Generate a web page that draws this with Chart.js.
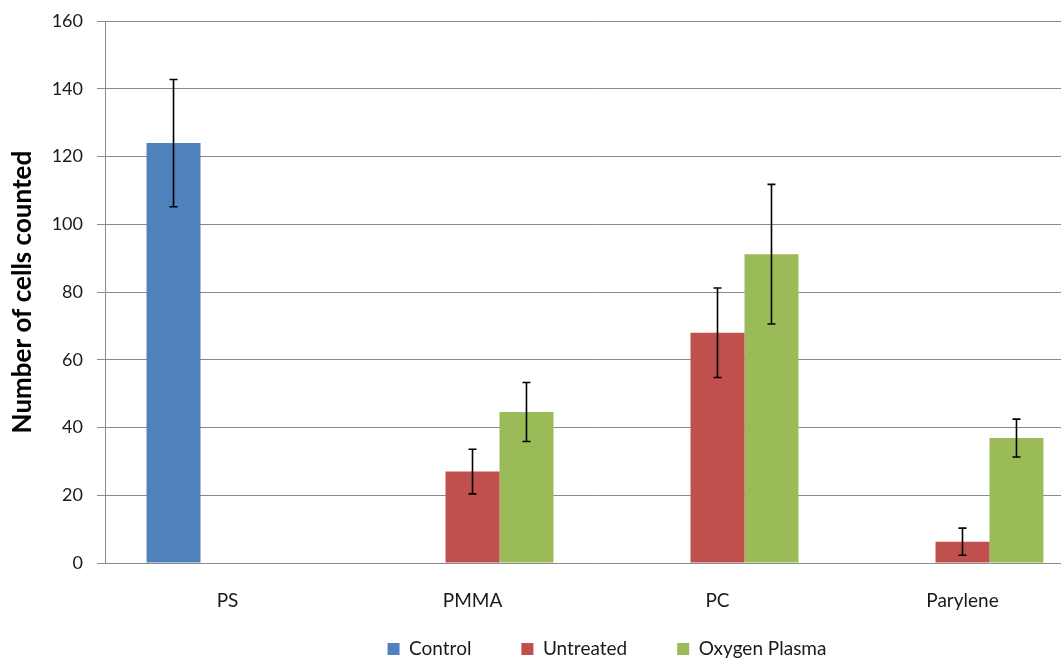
<!DOCTYPE html>
<html>
<head>
<meta charset="utf-8">
<script src="https://cdn.jsdelivr.net/npm/chart.js@4.4.1/dist/chart.umd.min.js"></script>
<style>
  html, body { margin: 0; padding: 0; background: #fff; overflow: hidden; }
  canvas { display: block; }
</style>
</head>
<body>
<canvas id="chart" width="1214" height="658"></canvas>
<script>
// Substrates tested
const categories = ['PS', 'PMMA', 'PC', 'Parylene'];

// Mean cell counts per substrate
const controlValues   = [124, null, null, null];
const untreatedValues = [null, 27, 68, 6.3];
const plasmaValues    = [null, 44.6, 91.2, 36.9];

// Error bar half-lengths (±)
const controlErrors   = [18.8, null, null, null];
const untreatedErrors = [null, 6.6, 13.2, 4];
const plasmaErrors    = [null, 8.7, 20.6, 5.6];

// Y axis ticks
const yMin = 0, yMax = 160, yStep = 20;

// Draws a vertical whisker with caps for every bar that has an error value
const errorBars = {
  id: 'errorBars',
  afterDatasetsDraw(chart) {
    const ctx = chart.ctx;
    const yScale = chart.scales.y;
    ctx.save();
    ctx.strokeStyle = '#000';
    ctx.lineWidth = 1.6;
    chart.data.datasets.forEach((ds, di) => {
      const meta = chart.getDatasetMeta(di);
      meta.data.forEach((bar, i) => {
        const v = ds.data[i], e = ds.errors[i];
        if (v == null || e == null) return;
        const x = bar.x;
        const yTop = yScale.getPixelForValue(v + e);
        const yBot = yScale.getPixelForValue(v - e);
        ctx.beginPath();
        ctx.moveTo(x, yTop); ctx.lineTo(x, yBot);
        ctx.moveTo(x - 4, yTop); ctx.lineTo(x + 4, yTop);
        ctx.moveTo(x - 4, yBot); ctx.lineTo(x + 4, yBot);
        ctx.stroke();
      });
    });
    ctx.restore();
  }
};

// Pull the legend row up so it sits just under the category labels,
// and give its box enough height to hold the row
const legendLift = {
  id: 'legendLift',
  afterLayout(chart) {
    const lg = chart.legend;
    lg.top = chart.scales.x.top + 26.5;
    lg.bottom = lg.top + 120;
    lg.height = 120;
  }
};

const font = 'Lato, "Liberation Sans", sans-serif';

new Chart(document.getElementById('chart'), {
  type: 'bar',
  data: {
    labels: categories,
    datasets: [
      { label: 'Control', data: controlValues, errors: controlErrors, backgroundColor: '#4f81bd' },
      { label: 'Untreated', data: untreatedValues, errors: untreatedErrors, backgroundColor: '#c0504d' },
      { label: 'Oxygen Plasma', data: plasmaValues, errors: plasmaErrors, backgroundColor: '#9bbb59' }
    ]
  },
  options: {
    responsive: false,
    animation: false,
    layout: { padding: 0 },
    categoryPercentage: 0.661,
    barPercentage: 1.0,
    plugins: {
      tooltip: { enabled: false },
      legend: {
        position: 'bottom',
        maxHeight: 46,
        labels: {
          boxWidth: 12,
          boxHeight: 12,
          padding: 50,
          color: '#1a1a1a',
          font: { family: font, size: 19 }
        }
      }
    },
    scales: {
      x: {
        grid: { display: false, drawTicks: false },
        border: { display: true, color: '#8a8a8a', width: 1 },
        ticks: { color: '#1a1a1a', padding: 26, font: { family: font, size: 19 } },
        afterFit(scale) { scale.height = 49; }
      },
      y: {
        min: yMin,
        max: yMax,
        ticks: { stepSize: yStep, color: '#1a1a1a', padding: 14, font: { family: font, size: 18, lineHeight: 0.8 } },
        grid: { color: '#8a8a8a', tickLength: 8, lineWidth: 1 },
        border: { display: true, color: '#8a8a8a', width: 1 },
        title: {
          display: true,
          text: 'Number of cells counted',
          color: '#000',
          padding: { top: 7, bottom: 0 },
          font: { family: font, size: 26, weight: 'bold' }
        },
        afterFit(scale) { scale.width = 105; }
      },
      spare: {
        type: 'linear',
        position: 'right',
        display: true,
        min: 0,
        max: 1,
        grid: { display: false, drawTicks: false },
        border: { display: false },
        ticks: { display: false },
        afterFit(scale) { scale.width = 129; }
      }
    }
  },
  plugins: [errorBars, legendLift]
});
</script>
</body>
</html>
